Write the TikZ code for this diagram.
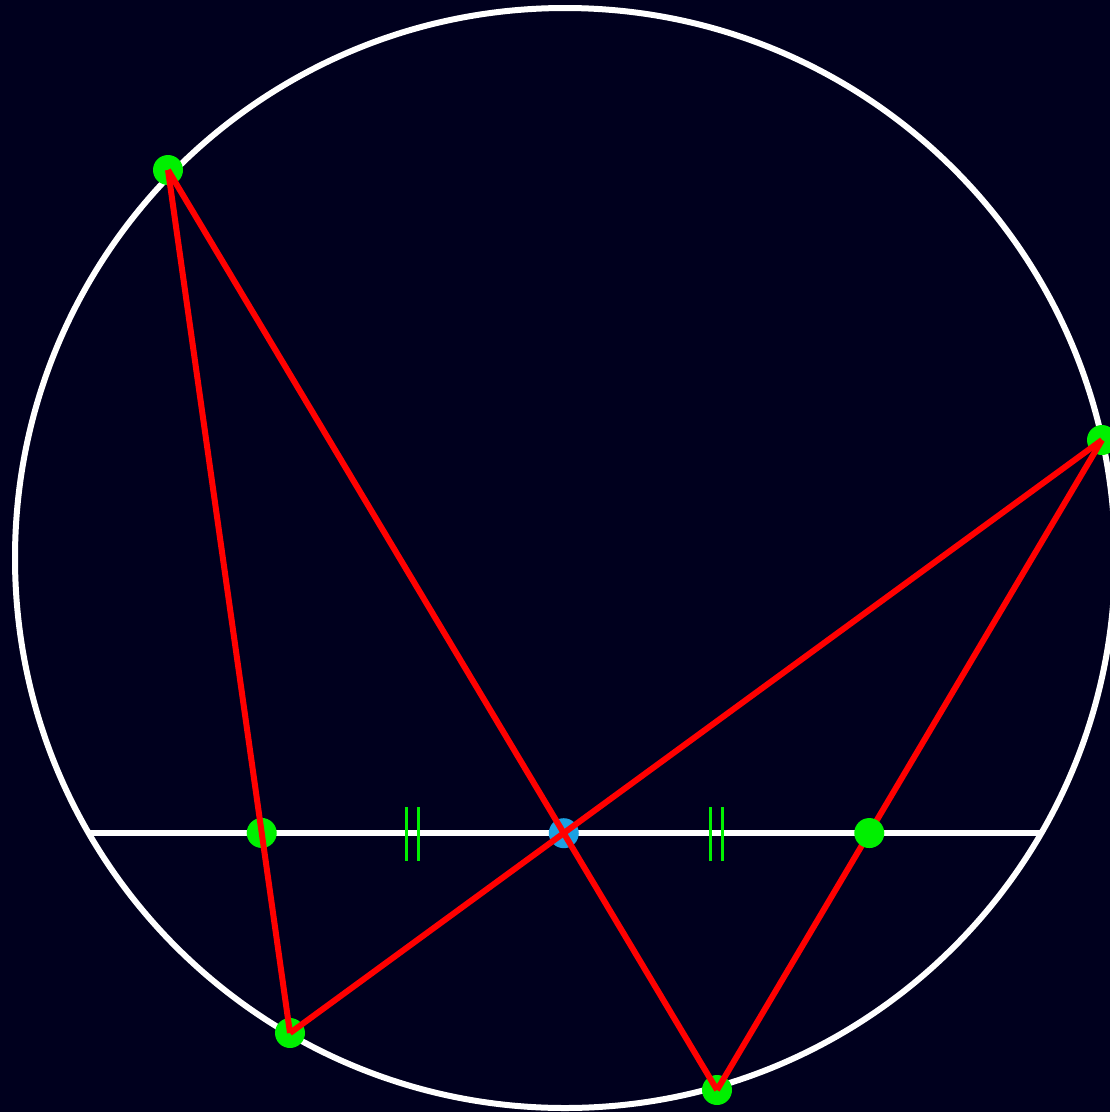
\documentclass[tikz,border=0pt]{standalone}
\usetikzlibrary{calc}
\definecolor{bg}{RGB}{0,0,30}
\definecolor{dotgreen}{RGB}{0,240,0}
\definecolor{dotblue}{RGB}{27,161,226}
\begin{document}
\begin{tikzpicture}[x=1pt,y=-1pt,
  gdot/.style={circle,fill=dotgreen,inner sep=0pt,minimum size=30pt},
  bdot/.style={circle,fill=dotblue,inner sep=0pt,minimum size=30pt},
  whiteline/.style={white,line width=6pt},
  redline/.style={red,line width=6pt},
  tickline/.style={dotgreen,line width=3pt}]
\fill[bg] (0,0) rectangle (1110,1112);
\useasboundingbox (0,0) rectangle (1110,1112);
\coordinate (O) at (565,558);
\coordinate (A) at (168,170);
\coordinate (B) at (1102,440);
\coordinate (C) at (290,1033);
\coordinate (D) at (717,1090);
\coordinate (L) at (90,833);
\coordinate (R) at (1041,833);
\coordinate (M) at (intersection of A--D and B--C);
\coordinate (P) at (intersection of A--C and L--R);
\coordinate (Q) at (intersection of B--D and L--R);
\coordinate (T1) at ($(P)!0.5!(M)$);
\coordinate (T2) at ($(M)!0.5!(Q)$);
% circle and chord
\draw[whiteline] (O) circle (550pt);
\draw[whiteline] (L) -- (R);
% equal-length ticks
\foreach \t in {T1,T2}{
  \draw[tickline] ($(\t)+(-6,-26)$) -- ($(\t)+(-6,28)$);
  \draw[tickline] ($(\t)+(6,-26)$) -- ($(\t)+(6,28)$);
}
% dots under the red lines
\node[gdot] (nA) at (A) {};
\node[gdot] (nB) at (B) {};
\node[gdot] (nC) at (C) {};
\node[gdot] (nD) at (D) {};
\node[gdot] (nP) at (P) {};
\node[bdot] (nM) at (M) {};
% butterfly chords
\draw[redline] (A) -- (C);
\draw[redline] (C) -- (B);
\draw[redline] (B) -- (D);
\draw[redline] (D) -- (A);
% dot over the red line
\node[gdot] (nQ) at (Q) {};
\end{tikzpicture}
\end{document}
